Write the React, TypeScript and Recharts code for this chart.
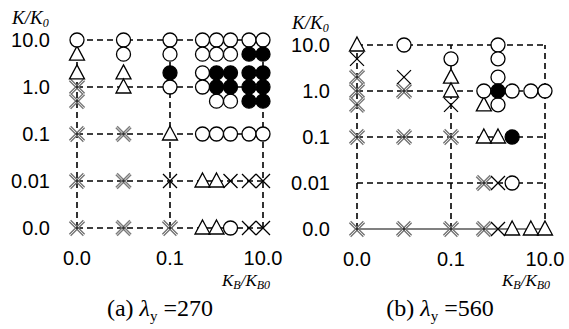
import React from 'react';
import { ScatterChart, Scatter, XAxis, YAxis, ReferenceLine } from 'recharts';

// each point is [K_B/K_B0, K/K0]
type Pt = [number, number];

const xTicks = [0, 0.1, 10];
const xTickLabels = ['0.0', '0.1', '10.0'];
const yTicks = [0, 0.01, 0.1, 1, 10];
const yTickLabels = ['0.0', '0.01', '0.1', '1.0', '10.0'];

// (a) lambda_y = 270
const aOpen: Pt[] = [
  [0, 10], [0.01, 10], [0.01, 5], [0.1, 10], [0.1, 5], [0.1, 1],
  [0.5, 10], [1, 10], [2, 10], [5, 10], [10, 10],
  [0.5, 5], [1, 5], [2, 5], [0.5, 2], [0.5, 1], [1, 0.5], [2, 0.5],
  [0.5, 0.1], [1, 0.1], [2, 0.1], [5, 0.1], [10, 0.1], [2, 0],
];
const aFilled: Pt[] = [
  [0.1, 2], [5, 5], [10, 5], [1, 2], [2, 2], [5, 2], [10, 2],
  [1, 1], [2, 1], [5, 1], [10, 1], [5, 0.5], [10, 0.5],
];
const aTriangle: Pt[] = [
  [0, 5], [0, 2], [0.01, 2], [0.01, 1], [0.1, 0.1], [0.5, 0.01], [1, 0.01], [0.5, 0], [1, 0],
];
const aCross: Pt[] = [[0.1, 0.01], [2, 0.01], [5, 0.01], [10, 0.01], [5, 0], [10, 0]];
const aGrayCross: Pt[] = [
  [0, 1], [0, 0.5], [0, 0.1], [0, 0.01], [0, 0], [0.01, 0.1], [0.01, 0.01], [0.01, 0], [0.1, 0],
];

// (b) lambda_y = 560
const bOpen: Pt[] = [
  [0.01, 10], [0.1, 5], [1, 10], [1, 5], [1, 2], [0.5, 1], [2, 1], [5, 1], [10, 1], [1, 0.5], [2, 0.01],
];
const bFilled: Pt[] = [[1, 1], [2, 0.1]];
const bTriangle: Pt[] = [
  [0, 10], [0.1, 2], [0.1, 1], [0.5, 0.5], [0.5, 0.1], [1, 0.1], [2, 0], [5, 0], [10, 0],
];
const bCross: Pt[] = [[0, 5], [0.01, 2], [0.1, 0.5], [1, 0.01], [1, 0]];
const bGrayCross: Pt[] = [
  [0, 2], [0, 1], [0, 0.5], [0, 0.1], [0.01, 1], [0.01, 0.1], [0.1, 0.1], [0.5, 0.01],
  [0, 0], [0.01, 0], [0.1, 0], [0.5, 0],
];

// log axis, 0.0 drawn one decade below the smallest value
const pos = (v: number) => (v === 0 ? -3 : Math.log10(v));
const toData = (pts: Pt[]) => pts.map(([kb, k]) => ({ x: pos(kb), y: pos(k) }));
const label = (ticks: number[], labels: string[]) => (v: number) => {
  const i = ticks.findIndex((t) => Math.abs(pos(t) - v) < 1e-6);
  return i >= 0 ? labels[i] : '';
};

const OpenCircle = (p: any) => (
  <circle cx={p.cx} cy={p.cy} r={7} fill="#fff" stroke="#000" strokeWidth={1.3} />
);
const FilledCircle = (p: any) => (
  <circle cx={p.cx} cy={p.cy} r={7} fill="#000" stroke="#000" strokeWidth={1.3} />
);
const Triangle = (p: any) => (
  <path
    d={`M${p.cx},${p.cy - 8}L${p.cx + 7.5},${p.cy + 6}L${p.cx - 7.5},${p.cy + 6}Z`}
    fill="#fff" stroke="#000" strokeWidth={1.3}
  />
);
const xPath = (cx: number, cy: number) =>
  `M${cx - 7},${cy - 7}L${cx + 7},${cy + 7}M${cx - 7},${cy + 7}L${cx + 7},${cy - 7}`;
const Cross = (p: any) => <path d={xPath(p.cx, p.cy)} stroke="#000" strokeWidth={1.3} fill="none" />;
const GrayCross = (p: any) => (
  <g>
    <path d={xPath(p.cx, p.cy)} stroke="#7a7a7a" strokeWidth={3.2} fill="none" />
    <path d={xPath(p.cx, p.cy)} stroke="#e4e4e4" strokeWidth={1} fill="none" />
    <circle cx={p.cx} cy={p.cy} r={1.4} fill="#333" />
  </g>
);

const tickFont = { fontFamily: 'Liberation Sans, Arial', fontSize: 20, fill: '#000' };
const dash = { stroke: '#000', strokeWidth: 1.6, strokeDasharray: '6 4' };

interface IPanelProps {
  left: number;
  top: number;
  width: number;
  right: number;
  bottom: number;
  open: Pt[];
  filled: Pt[];
  tri: Pt[];
  cross: Pt[];
  gray: Pt[];
  solidZero?: boolean;
}

const Panel = (props: IPanelProps) => {
  const { left, top, width, right, bottom, open, filled, tri, cross, gray, solidZero } = props;
  return (
    <div style={{ position: 'absolute', left, top: 0 }}>
      <ScatterChart width={width} height={329} margin={{ top, right, bottom, left: 17 }}>
        <XAxis
          type="number" dataKey="x" domain={[-3, 1]} ticks={xTicks.map(pos)}
          tickFormatter={label(xTicks, xTickLabels)} axisLine={false} tickLine={false}
          tickSize={0} tickMargin={23} height={40} tick={tickFont} interval={0}
        />
        <YAxis
          type="number" dataKey="y" domain={[-3, 1]} ticks={yTicks.map(pos)}
          tickFormatter={label(yTicks, yTickLabels)} axisLine={false} tickLine={false}
          tickSize={0} tickMargin={27} width={60} tick={tickFont} interval={0}
        />
        {yTicks.map((t) =>
          solidZero && t === 0 ? (
            <ReferenceLine key={t} y={pos(t)} stroke="#808080" strokeWidth={2} />
          ) : (
            <ReferenceLine key={t} y={pos(t)} {...dash} />
          )
        )}
        {xTicks.map((t) => (
          <ReferenceLine key={'v' + t} x={pos(t)} {...dash} />
        ))}
        <Scatter data={toData(gray)} shape={GrayCross} isAnimationActive={false} />
        <Scatter data={toData(cross)} shape={Cross} isAnimationActive={false} />
        <Scatter data={toData(tri)} shape={Triangle} isAnimationActive={false} />
        <Scatter data={toData(open)} shape={OpenCircle} isAnimationActive={false} />
        <Scatter data={toData(filled)} shape={FilledCircle} isAnimationActive={false} />
      </ScatterChart>
    </div>
  );
};

const serif = 'Liberation Serif, Times New Roman, serif';

const Titles = ({ dx, kTop, caption, value }: { dx: number; kTop: number; caption: string; value: string }) => (
  <g fontFamily={serif} fill="#000">
    <text x={dx + 12} y={kTop} fontSize={19} fontStyle="italic">
      K/K<tspan fontSize={12} dy={3}>0</tspan>
    </text>
    <text x={dx + 222} y={286} fontSize={17} fontStyle="italic">
      K<tspan fontSize={12} dy={3}>B</tspan>
      <tspan fontSize={17} dy={-3}>/K</tspan>
      <tspan fontSize={12} dy={3}>B0</tspan>
    </text>
    <text x={dx + 160} y={316} fontSize={24} textAnchor="middle">
      {caption} <tspan fontStyle="italic">λ</tspan>
      <tspan fontSize={15} dy={5}>y</tspan>
      <tspan dy={-5}> =</tspan>
      <tspan>{value}</tspan>
    </text>
  </g>
);

const App = () => (
  <div style={{ position: 'absolute', left: 0, top: 0, width: 569, height: 329, background: '#fff' }}>
    <Panel left={0} top={40} width={285} right={22} bottom={61}
      open={aOpen} filled={aFilled} tri={aTriangle} cross={aCross} gray={aGrayCross} />
    <Panel left={280} top={45} width={289} right={24} bottom={60}
      open={bOpen} filled={bFilled} tri={bTriangle} cross={bCross} gray={bGrayCross} solidZero />
    <svg width={569} height={329} style={{ position: 'absolute', left: 0, top: 0, pointerEvents: 'none' }}>
      <Titles dx={0} kTop={24} caption="(a)" value="270" />
      <Titles dx={280} kTop={29} caption="(b)" value="560" />
    </svg>
  </div>
);

export default App;
